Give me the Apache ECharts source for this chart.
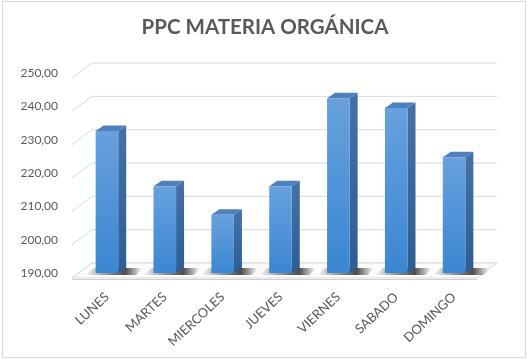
<!DOCTYPE html>
<html>
<head>
<meta charset="utf-8">
<script src="https://cdn.jsdelivr.net/npm/echarts@6/dist/echarts.min.js"></script>
<style>
  html, body { margin: 0; padding: 0; background: #fff; }
  #chart { width: 530px; height: 360px; }
  #frame { position: absolute; left: 2px; top: 1px; width: 522px; height: 355px; border: 1px solid #d9d9d9; pointer-events: none; }
</style>
</head>
<body>
<div id="chart"></div>
<div id="frame"></div>
<script>
const dias = ['LUNES', 'MARTES', 'MIERCOLES', 'JUEVES', 'VIERNES', 'SABADO', 'DOMINGO'];
const valores = [232.6, 216, 207.5, 216, 242.4, 239.5, 224.7];
const ticks = [190, 200, 210, 220, 230, 240, 250];

const chart = echarts.init(document.getElementById('chart'));

// desplazamientos de la "profundidad" del 3D
const BACK = { dx: 14, dy: -10 };
const FRONT = { dx: -6, dy: 5 };
const DEPTH = { dx: 8, dy: -5.5 };

function renderWalls(params, api) {
  const cs = params.coordSys;
  const v = api.value(1);
  const y = api.coord([0, v])[1];
  const left = cs.x;
  const right = cs.x + cs.width;
  const line = { stroke: '#d9d9d9', lineWidth: 1 };
  const children = [
    { type: 'line', shape: { x1: left + BACK.dx, y1: y + BACK.dy, x2: right + BACK.dx, y2: y + BACK.dy }, style: line },
    { type: 'line', shape: { x1: left + FRONT.dx, y1: y + FRONT.dy, x2: left + BACK.dx, y2: y + BACK.dy }, style: line },
  ];
  if (v === ticks[0]) {
    children.push({
      type: 'polygon',
      shape: { points: [
        [left + FRONT.dx, y + FRONT.dy], [right + FRONT.dx, y + FRONT.dy],
        [right + BACK.dx, y + BACK.dy], [left + BACK.dx, y + BACK.dy]] },
      style: { fill: '#fbfbfb', stroke: '#d9d9d9', lineWidth: 1 },
    });
    children.push({
      type: 'line',
      shape: { x1: left + FRONT.dx, y1: y + FRONT.dy + 1.5, x2: right + FRONT.dx, y2: y + FRONT.dy + 1.5 },
      style: { stroke: '#cfcfcf', lineWidth: 1 },
    });
  }
  return { type: 'group', children };
}

function renderBar(params, api) {
  const i = api.value(0);
  const top = api.coord([i, api.value(1)]);
  const base = api.coord([i, ticks[0]]);
  const bw = api.size([1, 0])[0] * 0.39;
  const x0 = top[0] - bw / 2;
  const x1 = x0 + bw;
  const yt = top[1];
  const yb = base[1];
  const { dx, dy } = DEPTH;
  return {
    type: 'group',
    children: [
      {
        type: 'polygon',
        shape: { points: [[x0 - 10, yb + 2], [x1 + 18, yb + 2], [x1 + dx + 16, yb - 5], [x0 - 2, yb - 5]] },
        style: {
          fill: new echarts.graphic.LinearGradient(0, 0, 1, 0, [
            { offset: 0, color: 'rgba(0,0,0,0)' },
            { offset: 0.25, color: 'rgba(0,0,0,0.3)' },
            { offset: 0.7, color: 'rgba(0,0,0,0.7)' },
            { offset: 1, color: 'rgba(0,0,0,0)' },
          ]),
        },
      },
      {
        type: 'polygon',
        shape: { points: [[x1, yt], [x1 + dx, yt + dy], [x1 + dx, yb + dy], [x1, yb]] },
        style: {
          fill: new echarts.graphic.LinearGradient(0, 0, 0, 1, [
            { offset: 0, color: '#4471a8' },
            { offset: 1, color: '#2b5e94' },
          ]),
        },
      },
      {
        type: 'polygon',
        shape: { points: [[x0, yt], [x0 + dx, yt + dy], [x1 + dx, yt + dy], [x1, yt]] },
        style: { fill: '#4f80bb' },
      },
      {
        type: 'rect',
        shape: { x: x0, y: yt, width: bw, height: yb - yt },
        style: {
          fill: new echarts.graphic.LinearGradient(0, 0, 0, 1, [
            { offset: 0, color: '#67a1de' },
            { offset: 1, color: '#3b86d2' },
          ]),
        },
      },
    ],
  };
}

chart.setOption({
  backgroundColor: '#fff',
  animation: false,
  textStyle: { fontFamily: 'Lato' },
  title: {
    text: 'PPC MATERIA ORGÁNICA',
    left: 'center',
    top: 12,
    textStyle: { fontFamily: 'Lato', fontWeight: 'bold', fontSize: 20.5, color: '#595959' },
  },
  grid: { left: 78, right: 47, top: 73, bottom: 87 },
  xAxis: {
    type: 'category',
    data: dias,
    axisLine: { show: false },
    axisTick: { show: false },
    axisLabel: { rotate: 43, margin: 22, color: '#595959', fontSize: 13, fontFamily: 'Lato' },
  },
  yAxis: {
    type: 'value',
    min: 190,
    max: 250,
    interval: 10,
    axisLine: { show: false },
    axisTick: { show: false },
    splitLine: { show: false },
    axisLabel: {
      margin: 20,
      color: '#595959',
      fontSize: 12,
      fontFamily: 'Lato',
      padding: [5, 0, 0, 0],
      formatter: (v) => v.toFixed(2).replace('.', ','),
    },
  },
  series: [
    {
      type: 'custom',
      z: 1,
      renderItem: renderWalls,
      data: ticks.map((t) => [0, t]),
      silent: true,
    },
    {
      type: 'custom',
      z: 2,
      renderItem: renderBar,
      data: valores.map((v, i) => [i, v]),
    },
  ],
});
</script>
</body>
</html>
